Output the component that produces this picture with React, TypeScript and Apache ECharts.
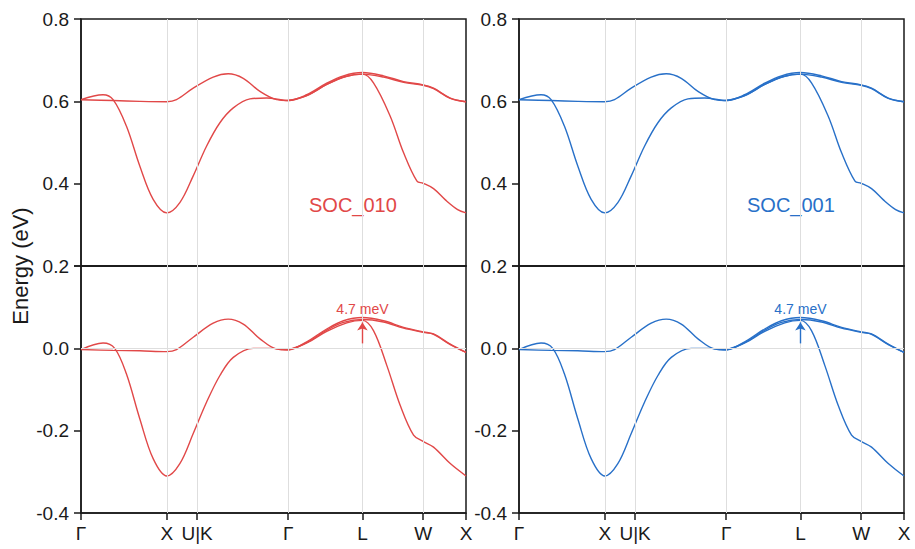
import React, { useEffect, useRef } from "react";
import * as echarts from "echarts";

// High-symmetry path positions (k-distance, 2π/a units) and labels
const K_POS = [0, 1, 1.3536, 2.4142, 3.2802, 3.9873, 4.4873];
const K_LABELS = ["Γ", "X", "U|K", "Γ", "L", "W", "X"];

// Upper window (0.2 – 0.8 eV)
const upperBandA: [number, number][] = [
  [0, 0.604], [0.374, 0.602], [0.685, 0.6], [1.0, 0.599], [1.113, 0.604], [1.308, 0.632],
  [1.541, 0.659], [1.716, 0.667], [1.891, 0.656], [2.086, 0.624], [2.28, 0.604], [2.414, 0.602],
  [2.631, 0.616], [2.864, 0.644], [3.059, 0.662], [3.28, 0.67], [3.526, 0.662], [3.76, 0.648],
  [3.987, 0.64], [4.109, 0.632], [4.304, 0.608], [4.487, 0.599],
];
const upperBandB: [number, number][] = [
  [0, 0.604], [0.257, 0.616], [0.374, 0.604], [0.529, 0.54], [0.685, 0.443], [0.841, 0.362],
  [1.0, 0.329], [1.152, 0.354], [1.308, 0.419], [1.463, 0.491], [1.619, 0.548], [1.775, 0.584],
  [1.969, 0.606], [2.164, 0.608], [2.414, 0.602], [2.631, 0.614], [2.864, 0.641], [3.098, 0.661],
  [3.28, 0.666], [3.409, 0.645], [3.604, 0.564], [3.76, 0.475], [3.916, 0.406], [3.987, 0.401],
  [4.109, 0.388], [4.25, 0.36], [4.39, 0.337], [4.487, 0.329],
];
const upperBandC: [number, number][] = [
  [2.414, 0.602], [2.631, 0.614], [2.864, 0.641], [3.059, 0.659], [3.28, 0.666], [3.526, 0.659],
  [3.76, 0.646], [3.987, 0.639], [4.109, 0.631], [4.304, 0.607], [4.487, 0.599],
];

// Lower window (-0.4 – 0.2 eV)
const lowerBandA: [number, number][] = [
  [0, -0.003], [0.374, -0.005], [0.685, -0.006], [1.0, -0.008], [1.113, -0.003], [1.308, 0.027],
  [1.541, 0.061], [1.716, 0.071], [1.891, 0.059], [2.086, 0.023], [2.28, -0.002], [2.414, -0.004],
  [2.631, 0.016], [2.864, 0.047], [3.059, 0.067], [3.28, 0.075], [3.526, 0.067], [3.76, 0.051],
  [3.987, 0.04], [4.109, 0.035], [4.304, 0.01], [4.487, -0.01],
];
const lowerBandB: [number, number][] = [
  [0, -0.003], [0.257, 0.013], [0.393, 0.0], [0.529, -0.062], [0.685, -0.171], [0.841, -0.268],
  [1.0, -0.31], [1.152, -0.28], [1.308, -0.207], [1.463, -0.131], [1.619, -0.066], [1.775, -0.022],
  [2.008, 0.0], [2.242, 0.0], [2.414, -0.003], [2.631, 0.013], [2.864, 0.041], [3.098, 0.062],
  [3.28, 0.068], [3.409, 0.043], [3.565, -0.042], [3.721, -0.139], [3.876, -0.211], [3.987, -0.226],
  [4.109, -0.24], [4.304, -0.28], [4.487, -0.31],
];
const lowerBandC: [number, number][] = [
  [2.414, -0.004], [2.631, 0.014], [2.864, 0.044], [3.059, 0.063], [3.28, 0.07], [3.526, 0.064],
  [3.76, 0.049], [3.987, 0.039], [4.109, 0.034], [4.304, 0.009], [4.487, -0.01],
];

const GAP_LABEL = "4.7 meV";
const ARROW_FROM = 0.012;
const ARROW_TO = 0.063;

const PANELS = [
  { name: "SOC_010", color: "#E14848" },
  { name: "SOC_001", color: "#2870C8" },
];

const FONT = "'Liberation Sans', Arial, sans-serif";
const INK = "#1a1a1a";

export default function App() {
  const ref = useRef<HTMLDivElement>(null);

  useEffect(() => {
    if (!ref.current) return;
    const chart = echarts.init(ref.current, undefined, { renderer: "svg" });

    const gridLefts = [81, 519];
    const grids: any[] = [];
    const xAxes: any[] = [];
    const yAxes: any[] = [];
    const series: any[] = [];
    const graphics: any[] = [];

    const labelFor = (v: number) => {
      const i = K_POS.findIndex((p) => Math.abs(p - v) < 1e-6);
      return i >= 0 ? K_LABELS[i] : "";
    };

    PANELS.forEach((panel, p) => {
      const left = gridLefts[p];
      [0, 1].forEach((row) => {
        const gi = p * 2 + row;
        const isLower = row === 1;
        grids.push({
          left,
          width: 385,
          top: isLower ? 266 : 19,
          height: 247,
          show: true,
          borderColor: INK,
          borderWidth: 1.5,
          backgroundColor: "transparent",
        });
        xAxes.push({
          type: "value",
          gridIndex: gi,
          min: 0,
          max: K_POS[K_POS.length - 1],
          axisLine: { show: true, onZero: false, lineStyle: { color: INK, width: 1.5 } },
          splitLine: { show: false },
          axisTick: isLower
            ? { show: true, customValues: K_POS, length: 7, inside: false, lineStyle: { color: INK, width: 1.5 } }
            : { show: false },
          axisLabel: isLower
            ? {
                show: true,
                customValues: K_POS,
                formatter: (v: number) => labelFor(v),
                fontSize: 19,
                fontFamily: FONT,
                color: INK,
                margin: 11,
              }
            : { show: false },
        });
        yAxes.push({
          type: "value",
          gridIndex: gi,
          min: isLower ? -0.4 : 0.2,
          max: isLower ? 0.2 : 0.8,
          interval: 0.2,
          axisLine: { show: true, onZero: false, lineStyle: { color: INK, width: 1.5 } },
          axisTick: { show: true, length: 7, inside: false, lineStyle: { color: INK, width: 1.5 } },
          splitLine: { show: false },
          axisLabel: {
            formatter: (v: number) => {
              if (isLower && v > 0.15) return "";
              return Math.abs(v) < 1e-9 ? "0.0" : v.toFixed(1);
            },
            fontSize: 19,
            fontFamily: FONT,
            color: INK,
            margin: 12,
          },
        });

        // reference grid lines
        const refLines: any[] = K_POS.slice(1, -1).map((x) => ({ xAxis: x }));
        if (isLower) refLines.push({ yAxis: 0 });
        series.push({
          type: "line",
          xAxisIndex: gi,
          yAxisIndex: gi,
          data: [],
          z: 1,
          silent: true,
          markLine: {
            silent: true,
            symbol: "none",
            label: { show: false },
            lineStyle: { color: "#dedede", width: 1, type: "solid" },
            data: refLines,
          },
        });

        const bands = isLower ? [lowerBandA, lowerBandB, lowerBandC] : [upperBandA, upperBandB, upperBandC];
        bands.forEach((band, bi) => {
          const s: any = {
            type: "line",
            xAxisIndex: gi,
            yAxisIndex: gi,
            data: band,
            smooth: 0.35,
            showSymbol: false,
            symbol: "none",
            z: 3,
            silent: true,
            lineStyle: { color: panel.color, width: 1.4 },
          };
          if (isLower && bi === 0) {
            s.markLine = {
              silent: true,
              symbol: ["none", "arrow"],
              symbolSize: 8,
              lineStyle: { color: panel.color, width: 1.4, type: "solid" },
              label: {
                show: true,
                position: "end",
                distance: 6,
                formatter: GAP_LABEL,
                color: panel.color,
                fontSize: 14,
                fontFamily: FONT,
              },
              data: [[{ coord: [K_POS[4], ARROW_FROM] }, { coord: [K_POS[4], ARROW_TO] }]],
            };
          }
          series.push(s);
        });
      });

      graphics.push({
        type: "text",
        x: p === 0 ? 309 : 747,
        y: 205,
        style: {
          text: panel.name,
          fill: panel.color,
          font: `20px ${FONT}`,
          align: "left",
          verticalAlign: "middle",
        },
      });
    });

    graphics.push({
      type: "text",
      x: 20,
      y: 266,
      rotation: Math.PI / 2,
      style: {
        text: "Energy (eV)",
        fill: INK,
        font: `22px ${FONT}`,
        align: "center",
        verticalAlign: "middle",
      },
    });

    chart.setOption({
      animation: false,
      backgroundColor: "#ffffff",
      textStyle: { fontFamily: FONT },
      grid: grids,
      xAxis: xAxes,
      yAxis: yAxes,
      series,
      graphic: graphics,
    });

    return () => chart.dispose();
  }, []);

  return (
    <div
      ref={ref}
      style={{ position: "fixed", left: 0, top: 0, width: 915, height: 549 }}
    />
  );
}
